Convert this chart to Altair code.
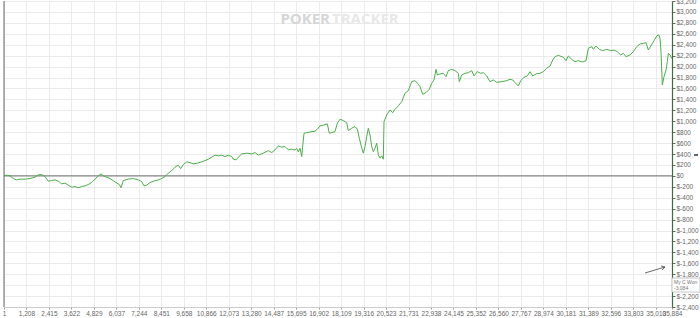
import altair as alt
import pandas as pd

# Cumulative winnings by hand number
hands = [1, 146, 323, 501, 683, 861, 1129, 1398, 1667, 1844, 2026, 2204, 2381, 2564, 2741, 2918,
         3101, 3278, 3455, 3638, 3815, 3992, 4175, 4352, 4530, 4712, 4890, 5067, 5212, 5335, 5518,
         5695, 5964, 6195, 6286, 6410, 6678, 6947, 7216, 7398, 7522, 7667, 7844, 8021, 8290, 8473,
         8650, 8827, 9010, 9187, 9364, 9493, 9633, 9815, 9993, 10170, 10385, 10622, 10799, 10976,
         11159, 11336, 11513, 11696, 11873, 12050, 12233, 12319, 12464, 12588, 12770, 13039, 13308,
         13485, 13662, 13931, 14200, 14382, 14560, 14737, 14919, 15097, 15274, 15456, 15634, 15725,
         15811, 15902, 15993, 16047, 16117, 16262, 16440, 16708, 16832, 16976, 17154, 17369, 17476,
         17605, 17783, 17906, 18050, 18228, 18410, 18497, 18679, 18857, 18980, 19088, 19217, 19303,
         19394, 19485, 19571, 19663, 19754, 19840, 19931, 20022, 20108, 20200, 20291, 20377, 20414,
         20560, 20737, 20882, 21006, 21183, 21366, 21543, 21720, 21903, 22080, 22204, 22349, 22494,
         22671, 22848, 22977, 23101, 23208, 23278, 23423, 23600, 23745, 23869, 24051, 24229, 24406,
         24460, 24589, 24766, 24944, 25126, 25250, 25427, 25610, 25749, 25932, 26109, 26286, 26469,
         26737, 27006, 27184, 27328, 27452, 27629, 27758, 27935, 28113, 28258, 28403, 28580, 28795,
         28972, 29155, 29332, 29477, 29601, 29778, 29869, 30047, 30192, 30315, 30498, 30675, 30852,
         31089, 31266, 31390, 31572, 31658, 31803, 31980, 32163, 32378, 32592, 32770, 32947, 33130,
         33269, 33414, 33629, 33806, 33989, 34166, 34343, 34488, 34612, 34741, 34918, 35063, 35170,
         35240, 35294, 35364, 35455, 35563, 35632, 35686, 35778, 35869, 35884]
won = [0, 13, 0, -49, -73, -60, -60, -49, -24, 18, 24, -13, -97, -86, -73, -97,
       -146, -133, -170, -207, -196, -219, -196, -183, -159, -122, -60, 0, 37, 0, -24,
       -49, -110, -159, -219, -86, -60, -49, -73, -104, -183, -170, -122, -97, -73, -49,
       -13, 49, 97, 159, 196, 133, 207, 256, 243, 219, 232, 256, 280, 305,
       342, 378, 366, 378, 353, 378, 353, 305, 292, 342, 402, 415, 402,
       426, 378, 415, 462, 426, 475, 548, 525, 536, 475, 488, 475, 499,
       439, 506, 353, 548, 781, 792, 804, 817, 854, 914, 927, 951, 781,
       792, 810, 963, 1036, 1011, 974, 828, 872, 901, 854, 689, 506, 415,
       536, 718, 872, 749, 536, 444, 506, 598, 384, 324, 366, 305, 993,
       1115, 1206, 1157, 1219, 1280, 1358, 1512, 1559, 1724, 1742, 1695, 1632, 1493,
       1523, 1585, 1695, 1755, 1950, 1846, 1865, 1877, 1815, 1925, 1950, 1925, 1877,
       1724, 1846, 1877, 1888, 1925, 1828, 1907, 1877, 1888, 1828, 1724, 1755, 1713,
       1724, 1742, 1768, 1755, 1706, 1645, 1742, 1804, 1828, 1907, 1828, 1865, 1877,
       1907, 1969, 2011, 2120, 2181, 2206, 2194, 2170, 2108, 2194, 2133, 2089, 2108,
       2084, 2108, 2334, 2364, 2316, 2376, 2316, 2291, 2316, 2291, 2303, 2272, 2212,
       2243, 2181, 2212, 2272, 2364, 2413, 2426, 2437, 2303, 2376, 2473, 2559, 2583,
       2517, 2272, 1663, 1815, 1938, 2089, 2243, 2212, 2152, 2150]

x_ticks = [1, 1208, 2415, 3622, 4829, 6037, 7244, 8451, 9658, 10866, 12073, 13280, 14487,
           15695, 16902, 18109, 19316, 20523, 21731, 22938, 24145, 25352, 26560, 27767,
           28974, 30181, 31389, 32596, 33803, 35010, 35884]
y_ticks = list(range(-2400, 3201, 200))

watermark_left = "POKER"
watermark_right = "TRACKER"
tip_title = "My C Won"
tip_value = "-3,084"

df = pd.DataFrame({"hand": hands, "won": won})
zdf = pd.DataFrame({"hand": [1, 35884], "won": [0, 0]})

W, H = 668, 306
xscale = alt.Scale(domain=[1, 35884], nice=False, zero=False)
yscale = alt.Scale(domain=[-2400, 3200], nice=False, zero=False)

font = "Liberation Sans"

xaxis = alt.Axis(values=x_ticks, title=None, labelFontSize=6.5, labelFont=font,
                 labelColor="#666", tickColor="#999", tickSize=2, labelPadding=1,
                 domainColor="#cccccc", gridColor="#ebebeb", grid=True, labelOverlap=False,
                 labelFlush=False, labelExpr="format(datum.value, ',')")
yaxis = alt.Axis(orient="right", values=y_ticks, title=None, labelFontSize=6.5, labelFont=font,
                 labelColor="#666", tickColor="#666", tickSize=3, labelPadding=1,
                 domainColor="#3f6b3f", domainWidth=1.2, gridColor="#ebebeb", grid=True,
                 labelOverlap=False, labelFlush=False,
                 labelExpr="datum.value < 0 ? '$-' + format(-datum.value, ',') : '$' + format(datum.value, ',')")

enc_x = alt.X("hand:Q", scale=xscale, axis=xaxis)
enc_y = alt.Y("won:Q", scale=yscale, axis=yaxis)

zero = alt.Chart(zdf).mark_line(color="#6e6e6e", strokeWidth=1).encode(x=enc_x, y=enc_y)
line = alt.Chart(df).mark_line(color="#4cae4c", strokeWidth=1).encode(x=enc_x, y=enc_y)

left_border = alt.Chart(pd.DataFrame({"a": [0]})).mark_rule(color="#666666", strokeWidth=1).encode(
    x=alt.value(0), y=alt.value(0), y2=alt.value(H)
)

wm1 = alt.Chart(pd.DataFrame({"t": [watermark_left]})).mark_text(
    align="right", baseline="middle", fontSize=15, fontWeight="bold", font="Open Sans",
    color="#d6d6d6"
).encode(text="t:N", x=alt.value(326), y=alt.value(18))
wm2 = alt.Chart(pd.DataFrame({"t": [watermark_right]})).mark_text(
    align="left", baseline="middle", fontSize=15, fontWeight="bold", font="Open Sans",
    color="#e8e8e8"
).encode(text="t:N", x=alt.value(328), y=alt.value(18))

arrow = alt.Chart(pd.DataFrame({"a": [0]})).mark_rule(color="#444", strokeWidth=0.8).encode(
    x=alt.value(641), x2=alt.value(661), y=alt.value(272), y2=alt.value(266)
)
arrow_h1 = alt.Chart(pd.DataFrame({"a": [0]})).mark_rule(color="#444", strokeWidth=0.8).encode(
    x=alt.value(657), x2=alt.value(661), y=alt.value(265), y2=alt.value(266)
)
arrow_h2 = alt.Chart(pd.DataFrame({"a": [0]})).mark_rule(color="#444", strokeWidth=0.8).encode(
    x=alt.value(658), x2=alt.value(661), y=alt.value(269), y2=alt.value(266)
)

tip_box = alt.Chart(pd.DataFrame({"a": [0]})).mark_rect(
    fill="white", stroke="#b8b8b8", strokeWidth=0.8, opacity=1
).encode(x=alt.value(668), x2=alt.value(696), y=alt.value(277), y2=alt.value(291))
tip_t1 = alt.Chart(pd.DataFrame({"t": [tip_title]})).mark_text(
    align="left", baseline="middle", fontSize=5, font=font, color="#777"
).encode(text="t:N", x=alt.value(670), y=alt.value(281))
tip_t2 = alt.Chart(pd.DataFrame({"t": [tip_value]})).mark_text(
    align="left", baseline="middle", fontSize=5, font=font, color="#777"
).encode(text="t:N", x=alt.value(670), y=alt.value(287))

marker = alt.Chart(pd.DataFrame({"a": [0]})).mark_rule(color="#333", strokeWidth=1.5).encode(
    x=alt.value(690), x2=alt.value(694), y=alt.value(154), y2=alt.value(154)
)

chart = alt.layer(
    zero, line, left_border, wm1, wm2, arrow, arrow_h1, arrow_h2, tip_box, tip_t1, tip_t2, marker
).properties(
    width=W, height=H,
    autosize=alt.AutoSizeParams(type="none"),
    padding={"left": 4, "top": 1, "right": 28, "bottom": 11},
    background="white",
).configure_view(stroke=None)

chart.save("out.html", embed_options={"renderer": "svg", "actions": False})
